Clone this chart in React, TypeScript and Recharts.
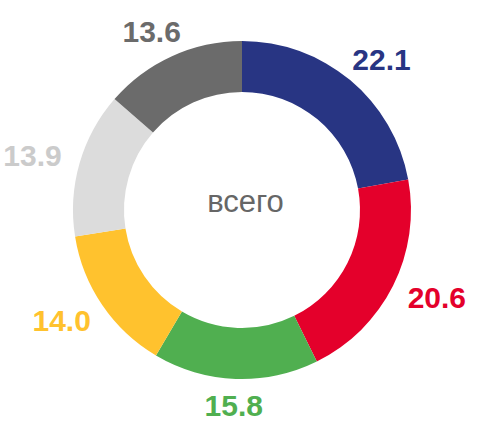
import { Cell, Label, Pie, PieChart } from "recharts";

const regions = ["A", "B", "C", "D", "E", "F"];
const shares = [22.1, 20.6, 15.8, 14.0, 13.9, 13.6];
const sliceColors = ["#283583", "#E4002B", "#50AF50", "#FFC22E", "#DCDCDC", "#6B6B6B"];
const labelColors = ["#283583", "#E4002B", "#50AF50", "#FFC22E", "#CBCBCB", "#6B6B6B"];
const centerText = "всего";

const RAD = Math.PI / 180;
const FONT = "'Liberation Sans', Arial, sans-serif";
const LABEL_SIZE = 30;

// "outside end" style: label box sits just past the ring, pushed out by half its size
const renderLabel = (props: any) => {
  const { cx, cy, midAngle, outerRadius, index, value } = props;
  const text = value.toFixed(1);
  const w = text.length * LABEL_SIZE * 0.55;
  const h = 22;
  const r = outerRadius + 16;
  const cos = Math.cos(-midAngle * RAD);
  const sin = Math.sin(-midAngle * RAD);
  const x = cx + r * cos + (cos * w) / 2;
  const y = cy + r * sin + (sin * h) / 2;
  return (
    <text
      x={x}
      y={y}
      textAnchor="middle"
      dominantBaseline="central"
      fill={labelColors[index]}
      fontFamily={FONT}
      fontWeight="bold"
      fontSize={LABEL_SIZE}
    >
      {text}
    </text>
  );
};

export default function App() {
  const data = regions.map((name, i) => ({ name, value: shares[i] }));

  return (
    <div style={{ position: "fixed", left: 0, top: 0, background: "#fff" }}>
      <PieChart width={491} height={421} margin={{ top: 0, right: 0, bottom: 0, left: 0 }}>
        <Pie
          data={data}
          dataKey="value"
          nameKey="name"
          cx={242}
          cy={210}
          innerRadius={118}
          outerRadius={169}
          startAngle={90}
          endAngle={-270}
          stroke="none"
          label={renderLabel}
          labelLine={false}
          isAnimationActive={false}
        >
          {data.map((d, i) => (
            <Cell key={d.name} fill={sliceColors[i]} />
          ))}
          <Label
            value={centerText}
            position="center"
            fill="#666666"
            fontFamily={FONT}
            fontSize={31}
            dy={-10}
          />
        </Pie>
      </PieChart>
    </div>
  );
}
